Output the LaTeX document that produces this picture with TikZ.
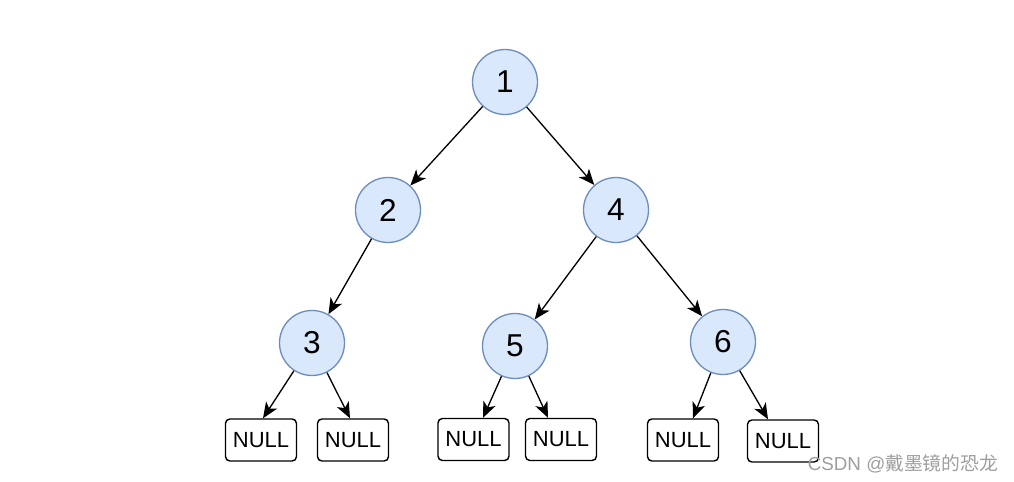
\documentclass[tikz,border=0pt]{standalone}
\usepackage{fontspec}
\setmainfont{Liberation Sans}
\newfontfamily\cjkfont{Noto Sans CJK SC}
\usepackage{tikz}
\usetikzlibrary{arrows.meta}
\usetikzlibrary{positioning}
\definecolor{nodefill}{HTML}{DAE8FC}
\definecolor{nodeline}{HTML}{6C8EBF}
\tikzstyle{tnode} = [draw=nodeline, fill=nodefill, circle, line width=0.75pt,
minimum size=1.3cm, inner sep=0pt, font=\fontsize{18}{20}\selectfont]
\tikzstyle{nullbox} = [draw, rounded corners=2.5pt, line width=0.8pt,
minimum width=1.42cm, minimum height=0.84cm, inner sep=0pt, font=\fontsize{12.5}{14}\selectfont]
\tikzstyle{line} = [draw, -{Stealth[length=9pt, width=7.5pt, inset=2.5pt]}, line width=0.75pt]

\begin{document}
\begin{tikzpicture}
	\useasboundingbox (0,0) rectangle (20.28,-9.64);
	%% Tree nodes
	\node [tnode] (n1) at (10.10,-1.64) {1};
	\node [tnode] (n2) at (7.76,-4.20) {2};
	\node [tnode] (n4) at (12.32,-4.20) {4};
	\node [tnode] (n3) at (6.24,-6.86) {3};
	\node [tnode] (n5) at (10.30,-6.92) {5};
	\node [tnode] (n6) at (14.46,-6.84) {6};
	%% Leaves
	\node [nullbox] (a) at (5.22,-8.80) {NULL};
	\node [nullbox] (b) at (7.06,-8.80) {NULL};
	\node [nullbox] (c) at (9.47,-8.79) {NULL};
	\node [nullbox] (d) at (11.22,-8.79) {NULL};
	\node [nullbox] (e) at (13.66,-8.80) {NULL};
	\node [nullbox] (f) at (15.66,-8.82) {NULL};
	%% Edges
	\path [line] (n1) -- (n2);
	\path [line] (n1) -- (n4);
	\path [line] (n2) -- (n3);
	\path [line] (n4) -- (n5);
	\path [line] (n4) -- (n6);
	\path [line] (n3) -- ([xshift=0.04cm]a.north);
	\path [line] (n3) -- ([xshift=-0.06cm]b.north);
	\path [line] (n5) -- ([xshift=0.19cm]c.north);
	\path [line] (n5) -- ([xshift=-0.26cm]d.north);
	\path [line] (n6) -- ([xshift=0.2cm]e.north);
	\path [line] (n6) -- ([xshift=-0.3cm]f.north);
	%% Watermark
	\node [text=black!38, font=\fontsize{10.7}{12}\selectfont] (mark) at (18.06,-9.27) {CSDN @\cjkfont 戴墨镜的恐龙};
\end{tikzpicture}
\end{document}
